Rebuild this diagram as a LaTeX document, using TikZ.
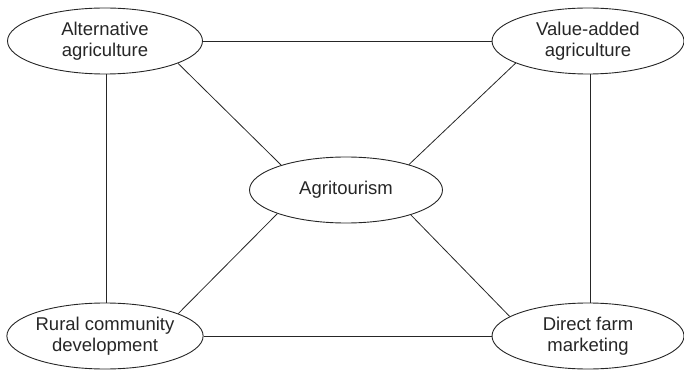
\documentclass[tikz,border=0pt]{standalone}
\usepackage{fontspec}
\setmainfont{Liberation Sans}
\usetikzlibrary{shapes.geometric}
\begin{document}
\begin{tikzpicture}[x=1pt,y=-1pt,
  topic/.style={ellipse,draw=black!85,line width=0.9pt,minimum width=195pt,minimum height=66pt,inner sep=0pt,align=center,text=black!85,font=\fontsize{18.5}{21.5}\selectfont},
  link/.style={line width=0.8pt,draw=black!85}]
\useasboundingbox (0,0) rectangle (684,371);
\node[topic] (alt) at (105,41) {Alternative\\agriculture};
\node[topic,minimum width=192pt] (val) at (588,41) {Value-added\\agriculture};
\node[topic,minimum width=193pt] (agr) at (346,190) {Agritourism};
\node[topic] (rur) at (105,336) {Rural community\\development};
\node[topic,minimum width=192pt] (dir) at (588,336) {Direct farm\\marketing};
\draw[link] (alt) -- (val);
\draw[link] (rur) -- (dir);
\draw[link] (alt.south -| 106,0) -- (rur.north -| 106,0);
\draw[link] (val.south -| 590,0) -- (dir.north -| 590,0);
\draw[link] (alt.-17) -- (agr.159);
\draw[link] (val.197) -- (agr.22);
\draw[link] (rur.17) -- (agr.199);
\draw[link] (dir.166) -- (agr.-21);
\end{tikzpicture}
\end{document}
